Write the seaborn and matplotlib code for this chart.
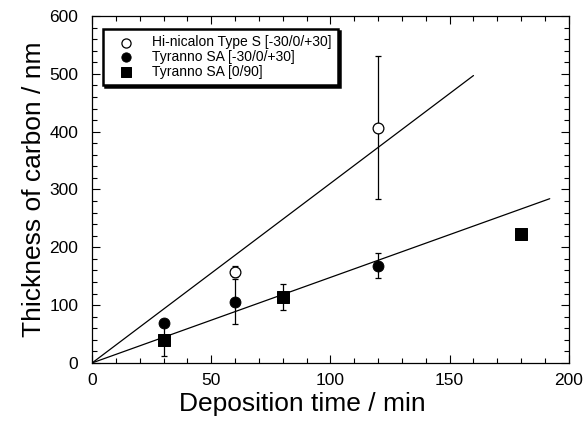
import pandas as pd
import matplotlib
matplotlib.use("Agg")
import matplotlib.pyplot as plt
import seaborn as sns
from matplotlib.ticker import MultipleLocator

# data
hin_time = [60, 120]
hin_thick = [158, 407]
hin_err = [10, 123]

tsa_time = [30, 60, 120]
tsa_thick = [69, 106, 168]
tsa_err = [0, 39, 22]

tsq_time = [30, 80, 180]
tsq_thick = [40, 114, 223]
tsq_err = [28, 22, 5]

# linear fits through origin
fit_hin_x = [0, 160]
fit_hin_y = [0, 497]
fit_tsa_x = [0, 192]
fit_tsa_y = [0, 284]

labels = ["Hi-nicalon Type S [-30/0/+30]", "Tyranno SA [-30/0/+30]", "Tyranno SA [0/90]"]

sns.set_style("ticks")
plt.rcParams["font.family"] = ["Liberation Sans", "DejaVu Sans"]
plt.rcParams.update({"text.color": "black", "axes.labelcolor": "black",
                     "xtick.color": "black", "ytick.color": "black"})

fig = plt.figure(figsize=(5.87, 4.21), dpi=100)
ax = fig.add_axes([0.157, 0.138, 0.812, 0.824])

# fit lines
sns.lineplot(x=fit_hin_x, y=fit_hin_y, ax=ax, color="black", lw=0.9)
sns.lineplot(x=fit_tsa_x, y=fit_tsa_y, ax=ax, color="black", lw=0.9)

# error bars
ax.errorbar(hin_time, hin_thick, yerr=hin_err, fmt="none", ecolor="black", elinewidth=0.9, capsize=2.5, capthick=0.9)
ax.errorbar(tsa_time, tsa_thick, yerr=tsa_err, fmt="none", ecolor="black", elinewidth=0.9, capsize=2.5, capthick=0.9)
ax.errorbar(tsq_time, tsq_thick, yerr=tsq_err, fmt="none", ecolor="black", elinewidth=0.9, capsize=2.5, capthick=0.9)

# points
sns.scatterplot(x=hin_time, y=hin_thick, ax=ax, marker="o", s=60, facecolor="white",
                edgecolor="black", linewidth=0.9, label=labels[0], zorder=5)
sns.scatterplot(x=tsa_time, y=tsa_thick, ax=ax, marker="o", s=62, color="black",
                edgecolor="black", label=labels[1], zorder=5)
sns.scatterplot(x=tsq_time, y=tsq_thick, ax=ax, marker="s", s=78, color="black",
                edgecolor="black", label=labels[2], zorder=5)

ax.set_xlim(0, 200)
ax.set_ylim(0, 600)
ax.xaxis.set_major_locator(MultipleLocator(50))
ax.xaxis.set_minor_locator(MultipleLocator(10))
ax.yaxis.set_major_locator(MultipleLocator(100))
ax.yaxis.set_minor_locator(MultipleLocator(20))
ax.tick_params(which="both", direction="in", top=True, right=True, color="black")
ax.tick_params(which="major", length=6, width=0.8, labelsize=12.5)
ax.tick_params(axis="x", which="major", pad=7)
ax.tick_params(axis="y", which="major", pad=10)
ax.tick_params(which="minor", length=3.5, width=0.8)
for sp in ax.spines.values():
    sp.set_linewidth(0.9)
    sp.set_color("black")

ax.set_xlabel("Deposition time / min", fontsize=19, labelpad=5)
ax.xaxis.set_label_coords(0.44, -0.085, transform=ax.transAxes)
ax.xaxis.label.set_va("top")
ax.set_ylabel("Thickness of carbon / nm", fontsize=19, labelpad=2)

leg = ax.legend(loc="upper left", bbox_to_anchor=(0.023, 0.962), fontsize=10, frameon=True,
                fancybox=False, handletextpad=0.7, borderpad=0.45, labelspacing=0.05,
                markerscale=0.85, borderaxespad=0, handlelength=2.4,
                shadow={"ox": 1.2, "oy": -1.2, "color": "black", "alpha": 1})
leg.get_frame().set_edgecolor("black")
leg.get_frame().set_linewidth(1.8)
leg.get_frame().set_alpha(1)

fig.savefig("out.png", dpi=100)
